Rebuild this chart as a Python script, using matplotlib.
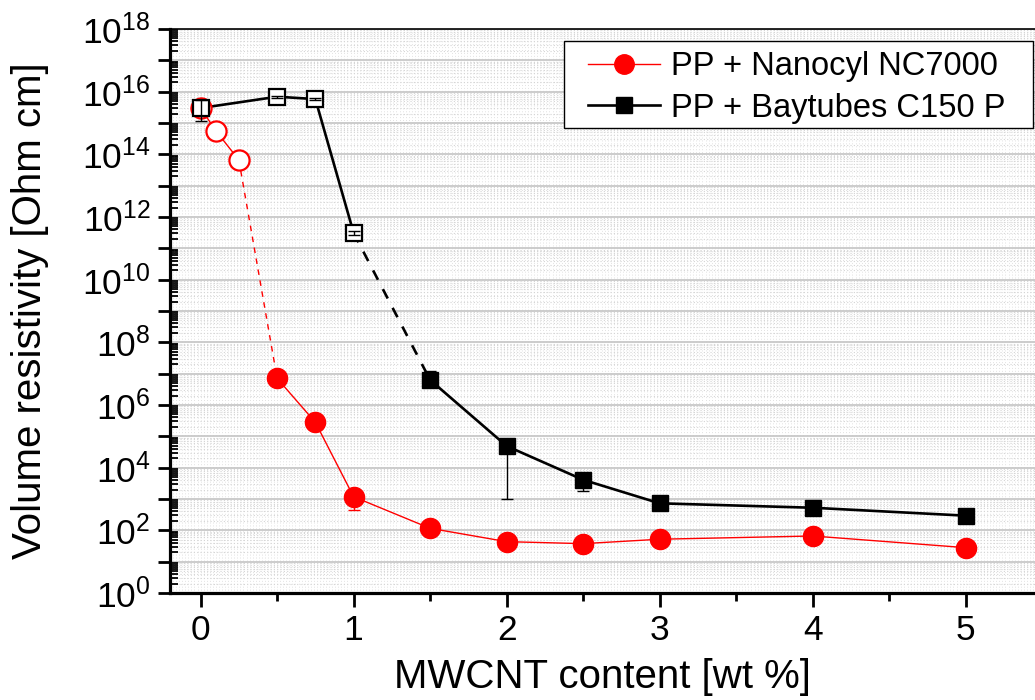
import numpy as np
import matplotlib
matplotlib.use('Agg')
import matplotlib.pyplot as plt
from matplotlib.ticker import LogLocator, MultipleLocator, FuncFormatter, NullFormatter, FixedLocator
from matplotlib.lines import Line2D
from matplotlib.patches import Rectangle

plt.rcParams['font.family'] = ['Liberation Sans', 'DejaVu Sans']
plt.rcParams['mathtext.fontset'] = 'custom'
plt.rcParams['mathtext.rm'] = 'Liberation Sans'
plt.rcParams['mathtext.it'] = 'Liberation Sans:italic'
plt.rcParams['mathtext.bf'] = 'Liberation Sans:bold'

# ---------------- data ----------------
nc_x = [0, 0.1, 0.25, 0.5, 0.75, 1, 1.5, 2, 2.5, 3, 4, 5]
nc_y = [3.0e15, 5.6e14, 6.6e13, 7.1e6, 2.8e5, 1.18e3, 116, 43.5, 37.6, 52, 66, 28]
nc_err_lo = [0, 0, 0, 0, 0, 733, 0, 0, 0, 0, 0, 0]
nc_err_hi = [0, 0, 0, 0, 0, 0, 0, 0, 0, 0, 0, 0]
nc_open = [True, True, True, False, False, False, False, False, False, False, False, False]

bt_x = [0, 0.5, 0.75, 1, 1.5, 2, 2.5, 3, 4, 5]
bt_y = [3.0e15, 6.9e15, 5.8e15, 3.1e11, 6.3e6, 4.9e4, 4.1e3, 728, 526, 294]
bt_err_lo = [1.83e15, 0.5e15, 0.4e15, 0.4e11, 0, 4.8e4, 2.3e3, 0, 0, 0]
bt_err_hi = [2.5e15, 0.5e15, 0.4e15, 0.4e11, 6.2e6, 0, 0, 0, 0, 0]
bt_open = [True, True, True, True, False, False, False, False, False, False]

# index where the dashed (percolation) gap starts
nc_gap = 2
bt_gap = 3

labels = ['PP + Nanocyl NC7000', 'PP + Baytubes C150 P']
xlabel = 'MWCNT content [wt %]'
ylabel = 'Volume resistivity [Ohm cm]'
xticks = [0, 1, 2, 3, 4, 5]

# ---------------- figure ----------------
W, H = 1035, 700
fig = plt.figure(figsize=(W / 100, H / 100), dpi=100)
left, right, top, bottom = 170, 1035, 29, 593
ax = fig.add_axes([left / W, 1 - bottom / H, (right - left) / W, (bottom - top) / H])

ax.set_yscale('log')
ax.set_ylim(1, 1e18)
ax.set_xlim(-0.2, 5.453)

# background texture: fine vertical dotted lines
ax.vlines(np.arange(-0.2, 5.46, 0.02), 0, 1, transform=ax.get_xaxis_transform(),
          colors='#e2e2e2', linewidth=0.7, linestyles=(0, (1, 2)), zorder=0)
# grid
ax.yaxis.set_major_locator(LogLocator(base=10, subs=(1.0,), numticks=40))
ax.yaxis.set_minor_locator(LogLocator(base=10, subs=np.arange(2, 10), numticks=40))
ax.grid(which='major', axis='y', color='#c8c8c8', linewidth=1.3, linestyle='-', zorder=0.5)
ax.grid(which='minor', axis='y', color='#d4d4d4', linewidth=0.8, linestyle=(0, (1, 2)), zorder=0.5)
ax.set_axisbelow(True)

red = '#ff0000'


def draw_series(x, y, gap, color, lw, marker, ms, open_flags):
    x = np.array(x); y = np.array(y)
    ax.plot(x[:gap + 1], y[:gap + 1], color=color, lw=lw, zorder=2)
    ax.plot(x[gap:gap + 2], y[gap:gap + 2], color=color, lw=lw, ls=(0, (4, 4)), zorder=2)
    ax.plot(x[gap + 1:], y[gap + 1:], color=color, lw=lw, zorder=2)
    op = np.array(open_flags)
    ax.plot(x[op], y[op], ls='none', marker=marker, ms=ms, mfc='white', mec=color, mew=1.6, zorder=3)
    ax.plot(x[~op], y[~op], ls='none', marker=marker, ms=ms, mfc=color, mec=color, mew=1.0, zorder=3)


def draw_err(x, y, lo, hi, color, z):
    x = np.array(x); y = np.array(y); lo = np.array(lo); hi = np.array(hi)
    m = (lo > 0) | (hi > 0)
    ax.errorbar(x[m], y[m], yerr=[lo[m], hi[m]], fmt='none', ecolor=color, elinewidth=1.0,
                capsize=4, capthick=1.0, zorder=z)


draw_series(nc_x, nc_y, nc_gap, red, 1.0, 'o', 14.5, nc_open)
draw_err(nc_x, nc_y, nc_err_lo, nc_err_hi, red, 3.5)
draw_series(bt_x, bt_y, bt_gap, 'black', 1.9, 's', 11, bt_open)
draw_err(bt_x, bt_y, bt_err_lo, bt_err_hi, 'black', 4.5)

# ---------------- axes styling ----------------
def yfmt(v, pos):
    e = int(round(np.log10(v)))
    if e % 2:
        return ''
    return r'$\mathdefault{10^{%d}}$' % e

ax.yaxis.set_major_formatter(FuncFormatter(yfmt))
ax.yaxis.set_minor_formatter(NullFormatter())
ax.xaxis.set_major_locator(FixedLocator(xticks))
ax.xaxis.set_minor_locator(MultipleLocator(0.5))

ax.tick_params(axis='y', which='major', direction='out', length=9, width=2, labelsize=25.5, pad=5)
ax.tick_params(axis='y', which='minor', direction='in', length=6, width=1.3)
ax.tick_params(axis='x', which='major', direction='out', length=10, width=2, labelsize=25.5, pad=5)
ax.tick_params(axis='x', which='minor', direction='out', length=6, width=2)

for s in ['left', 'bottom']:
    ax.spines[s].set_linewidth(2.3)
ax.spines['top'].set_linewidth(1.2)
ax.spines['right'].set_visible(False)

ax.set_xlabel(xlabel, fontsize=29, labelpad=8)
ax.set_ylabel(ylabel, fontsize=29, labelpad=24)

# legend: frame drawn as a rectangle, entries placed inside
frame = Rectangle((564 / W, 1 - 128 / H), (1033 - 564) / W, (128 - 41) / H,
                  transform=fig.transFigure, facecolor='white', edgecolor='black',
                  linewidth=1.0, zorder=9, clip_on=False)
ax.add_patch(frame)
handles = [
    Line2D([], [], color=red, lw=1.0, marker='o', ms=14, mfc=red, mec=red),
    Line2D([], [], color='black', lw=1.9, marker='s', ms=11, mfc='black', mec='black'),
]
leg = ax.legend(handles, labels, loc='upper left', bbox_to_anchor=(588 / W, 1 - 51 / H),
                bbox_transform=fig.transFigure, borderaxespad=0, borderpad=0, fontsize=23.5,
                frameon=False, handlelength=2.2, handletextpad=0.35, labelspacing=0.33)
leg.set_zorder(10)

fig.savefig('out.png', dpi=100)
